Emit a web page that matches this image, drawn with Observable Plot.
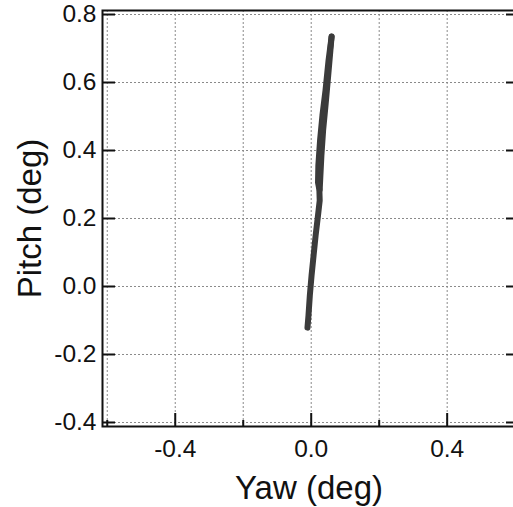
<!DOCTYPE html>
<html>
<head>
<meta charset="utf-8">
<script src="https://cdn.jsdelivr.net/npm/d3@7"></script>
<script src="https://cdn.jsdelivr.net/npm/@observablehq/plot@0.6"></script>
<style>
  html, body { margin: 0; padding: 0; background: #fff; }
  svg { display: block; }
</style>
</head>
<body>
<div id="chart"></div>
<script>
// Trajectory (deg): first pass
const yawA   = [0.060, 0.051, 0.042, 0.033, 0.026, 0.021, 0.020, 0.024, 0.025, 0.020, 0.013, 0.007, 0.001, -0.004, -0.008, -0.011];
const pitchA = [0.735, 0.665, 0.576, 0.503, 0.429, 0.356, 0.306, 0.285, 0.253, 0.209, 0.150, 0.091, 0.032, -0.026, -0.085, -0.121];
// Trajectory (deg): second pass (upper, slightly offset)
const yawB   = [0.060, 0.050, 0.042, 0.035, 0.030, 0.027, 0.025];
const pitchB = [0.735, 0.621, 0.532, 0.459, 0.385, 0.326, 0.285];

const xMajor = [-0.4, 0.0, 0.4];
const xMinor = [-0.6, -0.2, 0.2, 0.6];
const xGrid  = [-0.6, -0.4, -0.2, 0.0, 0.2, 0.4, 0.6];
const yTicks = [-0.4, -0.2, 0.0, 0.2, 0.4, 0.6, 0.8];
const xLabel = "Yaw (deg)";
const yLabel = "Pitch (deg)";

const passA = yawA.map((x, i) => ({x, y: pitchA[i]}));
const passB = yawB.map((x, i) => ({x, y: pitchB[i]}));
const fmt = d => d.toFixed(1);
const ink = "#111";
const lineColor = "#3b3b3b";
const font = "Helvetica, 'Liberation Sans', Arial, sans-serif";

const chart = Plot.plot({
  width: 513,
  height: 507,
  marginLeft: 102,
  marginRight: -2,
  marginTop: 10,
  marginBottom: 81,
  x: {domain: [-0.614, 0.601]},
  y: {domain: [-0.4118, 0.8118]},
  style: {fontFamily: font, background: "#fff", color: ink},
  marks: [
    Plot.gridX(xGrid, {stroke: "#8a8a8a", strokeOpacity: 1, strokeWidth: 1, strokeDasharray: "2,2"}),
    Plot.gridY(yTicks, {stroke: "#8a8a8a", strokeOpacity: 1, strokeWidth: 1, strokeDasharray: "2,2"}),
    Plot.line(passB, {x: "x", y: "y", stroke: lineColor, strokeWidth: 6, strokeLinecap: "round", strokeLinejoin: "round"}),
    Plot.line(passA, {x: "x", y: "y", stroke: lineColor, strokeWidth: 6, strokeLinecap: "round", strokeLinejoin: "round"}),
    Plot.frame({stroke: ink, strokeWidth: 2}),
    // y axis (left): labels and inward ticks
    Plot.axisY(yTicks, {anchor: "left", tickSize: 0, tickPadding: 6, tickFormat: fmt, fontSize: 24.5, label: null, fill: ink}),
    Plot.axisY(yTicks, {anchor: "left", tickSize: -13, tickFormat: () => "", label: null, stroke: ink, strokeWidth: 2}),
    Plot.axisY(yTicks, {anchor: "right", tickSize: -10, tickFormat: () => "", label: null, stroke: ink, strokeWidth: 2}),
    // x axis (bottom): labels and inward ticks
    Plot.axisX(xMajor, {anchor: "bottom", tickSize: 0, tickPadding: 13, tickFormat: fmt, fontSize: 24.5, label: null, fill: ink}),
    Plot.axisX(xMajor, {anchor: "bottom", tickSize: -13, tickFormat: () => "", label: null, stroke: ink, strokeWidth: 2}),
    Plot.axisX(xMinor, {anchor: "bottom", tickSize: -6, tickFormat: () => "", label: null, stroke: ink, strokeWidth: 2}),
    // axis titles
    Plot.text([xLabel], {frameAnchor: "bottom", dy: 62, text: d => d, fontSize: 33, fill: ink, textAnchor: "middle", lineAnchor: "middle"}),
    Plot.text([yLabel], {frameAnchor: "left", dx: -72, rotate: -90, text: d => d, fontSize: 33, fill: ink, textAnchor: "middle", lineAnchor: "middle"})
  ]
});
document.getElementById("chart").appendChild(chart);
</script>
</body>
</html>
